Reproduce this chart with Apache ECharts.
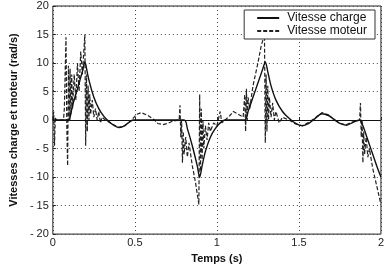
<!DOCTYPE html>
<html>
<head>
<meta charset="utf-8">
<script src="https://cdn.jsdelivr.net/npm/echarts@6/dist/echarts.min.js"></script>
<style>
  html, body { margin: 0; padding: 0; background: #fff; }
  #chart { width: 387px; height: 269px; }
</style>
</head>
<body>
<div id="chart"></div>
<script>
// valeurs
const xTicks = [0, 0.5, 1, 1.5, 2];
const yTicks = [-20, -15, -10, -5, 0, 5, 10, 15, 20];

const chargeT = [0, 0.1, 0.105, 0.12, 0.15, 0.18, 0.195, 0.2, 0.22, 0.25, 0.28, 0.31, 0.34, 0.37, 0.4, 0.43, 0.46, 0.49,
  0.8, 0.82, 0.85, 0.88, 0.895, 0.91, 0.93, 0.96, 0.99, 1.02, 1.05,
  1.17, 1.19, 1.22, 1.25, 1.28, 1.295, 1.31, 1.33, 1.36, 1.4, 1.44, 1.48, 1.52, 1.56, 1.6, 1.64, 1.68, 1.71, 1.75, 1.79, 1.83, 1.87,
  1.89, 1.92, 1.95, 1.98, 2.0];
const chargeV = [0, 0, 0.5, 2.5, 5.5, 8.5, 10.2, 9.8, 7, 4, 2, 0.7, -0.2, -0.9, -1.3, -1.1, -0.5, 0,
  0, -1.5, -4.5, -8, -10, -8, -5.5, -3, -1.5, -0.5, 0,
  0, 1.5, 4, 6.5, 9, 10.2, 8.5, 6, 3.5, 1.5, 0.3, -0.6, -1, -0.6, 0.3, 1.1, 0.8, 0.2, -0.6, -0.9, -0.4, 0,
  -1, -3.5, -6, -8.5, -10];

const moteurT = [0, 0.005, 0.01, 0.015, 0.02, 0.065, 0.07, 0.08, 0.085, 0.09, 0.095, 0.1, 0.105, 0.11, 0.115, 0.12, 0.13, 0.14,
  0.15, 0.16, 0.17, 0.18, 0.195, 0.2, 0.205, 0.21, 0.215, 0.22, 0.225, 0.23, 0.24, 0.25, 0.26, 0.27, 0.28, 0.29, 0.3, 0.32,
  0.35, 0.4, 0.44, 0.48, 0.51, 0.54, 0.58, 0.62, 0.64, 0.67, 0.7, 0.73, 0.77, 0.775, 0.78, 0.785, 0.79, 0.795, 0.8, 0.81,
  0.82, 0.83, 0.85, 0.87, 0.89, 0.895, 0.9, 0.905, 0.91, 0.915, 0.92, 0.93, 0.94, 0.95, 0.96, 0.98, 1.0, 1.02, 1.03, 1.05,
  1.08, 1.1, 1.13, 1.16, 1.17, 1.175, 1.18, 1.185, 1.19, 1.2, 1.22, 1.25, 1.27, 1.29, 1.295, 1.3, 1.305, 1.31, 1.315, 1.32,
  1.33, 1.34, 1.35, 1.36, 1.38, 1.4, 1.44, 1.48, 1.52, 1.56, 1.6, 1.64, 1.68, 1.71, 1.75, 1.79, 1.83, 1.87, 1.875, 1.88,
  1.885, 1.89, 1.895, 1.9, 1.91, 1.92, 1.93, 1.95, 1.97, 2.0];
const moteurV = [0, 1.5, -4.5, 0.5, 0, 0, 2, 14.5, -1, -8, 9.5, 0, 9, 1, 8, 2, 8, 3.5,
  10, 5, 12, 8, 15, -4.5, 8, -2, 6, 0, 4.5, 1, 3.5, 0.5, 2, 0, 1.5, -0.5, 0.5, 0,
  -0.5, -1.3, -1, 0, 1, 1.3, 0.8, 0, -0.6, -0.8, -0.6, -0.2, 0, 2.6, -3, 0, -7.5, -2, -6, -3,
  -6.5, -4, -8, -11, -14.8, 4.5, -9, 2, -7, 0, -5, -1, -3.5, -0.5, -2, -0.5, -1, 1.5, -0.5, 0,
  0.8, 1.5, 1, 0.5, 4.5, -2, 5.5, 0, 4, 2, 6, 10, 13, 15, -4, 8, -2, 6, 0, 4,
  0.5, 3, 0, 1.5, -0.5, 0.5, 0, -0.7, -1, -0.4, 0.4, 1.3, 0.9, 0.2, -0.6, -0.8, -0.3, 0, 3, -3,
  0, -7.5, -2, -6, -3, -6.5, -5, -8.5, -11, -14.8];

const zip = (t, v) => t.map((x, i) => [x, v[i]]);

const chart = echarts.init(document.getElementById('chart'));
const font = 'Liberation Sans, Arial, sans-serif';

chart.setOption({
  animation: false,
  backgroundColor: '#fff',
  grid: { left: 40, right: 4, top: 6, bottom: 24, show: true, borderColor: '#222', borderWidth: 1 },
  legend: {
    right: 12, top: 10, orient: 'vertical',
    itemWidth: 22, itemHeight: 11, itemGap: 1,
    padding: [2, 8, 2, 12],
    backgroundColor: '#fff', borderColor: '#333', borderWidth: 1,
    itemStyle: { opacity: 0 },
    textStyle: { fontFamily: font, fontSize: 12, color: '#111', padding: [0, 0, 0, 3] },
    data: ['Vitesse charge', 'Vitesse moteur']
  },
  xAxis: {
    type: 'value', min: 0, max: 2, interval: 0.5,
    name: 'Temps (s)', nameLocation: 'middle', nameGap: 16,
    nameTextStyle: { fontFamily: font, fontSize: 11, fontWeight: 'bold', color: '#111' },
    axisLine: { show: false },
    axisTick: { inside: true, length: 3, lineStyle: { color: '#222' } },
    axisLabel: { fontFamily: font, fontSize: 11, color: '#222', margin: 3,
      formatter: v => xTicks.includes(v) ? String(v) : '' },
    splitLine: { show: true, lineStyle: { color: '#444', type: [1, 3], width: 1 } }
  },
  yAxis: {
    type: 'value', min: -20, max: 20, interval: 5,
    name: 'Vitesses charge et moteur (rad/s)', nameLocation: 'middle', nameGap: 26,
    nameTextStyle: { fontFamily: font, fontSize: 11, fontWeight: 'bold', color: '#111' },
    axisLine: { show: false },
    axisTick: { inside: true, length: 3, lineStyle: { color: '#222' } },
    axisLabel: { fontFamily: font, fontSize: 11, color: '#222', margin: 4,
      formatter: v => yTicks.includes(v) ? String(v).replace('-', '- ') : '' },
    splitLine: { show: true, lineStyle: { color: '#444', type: [1, 3], width: 1 } }
  },
  series: [
    {
      name: 'Vitesse charge', type: 'line', data: zip(chargeT, chargeV),
      symbol: 'none', smooth: 0.3,
      lineStyle: { color: '#111', width: 1.4 },
      itemStyle: { color: '#111' },
      markLine: {
        silent: true, symbol: 'none', label: { show: false },
        lineStyle: { color: '#111', type: 'solid', width: 1.2 },
        data: [{ yAxis: 0 }]
      },
      z: 3
    },
    {
      name: 'Vitesse moteur', type: 'line', data: zip(moteurT, moteurV),
      symbol: 'none',
      lineStyle: { color: '#222', width: 1.2, type: [4, 2] },
      itemStyle: { color: '#222' },
      z: 2
    }
  ]
});
</script>
</body>
</html>
